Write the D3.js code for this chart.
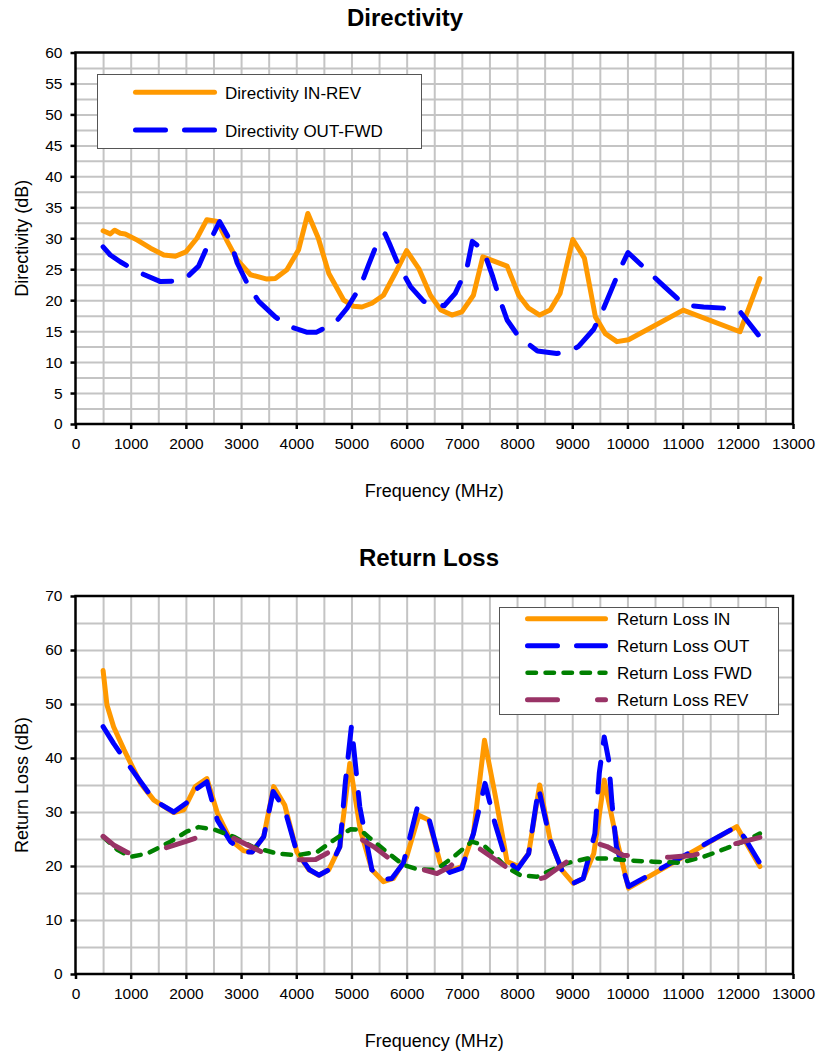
<!DOCTYPE html>
<html>
<head>
<meta charset="utf-8">
<script src="https://cdn.jsdelivr.net/npm/d3@7"></script>
<style>
    body { margin: 0; background: #fff; }
    svg { font-family: "Liberation Sans", Arial, sans-serif; }
    .grid line { stroke: #c4c4c4; stroke-width: 2; }
    .grid .domain { display: none; }
    .axis .domain { display: none; }
    .axis line { stroke: #000; stroke-width: 2.5; }
    .axis text { font-size: 15.5px; fill: #000; font-family: "Liberation Sans", Arial, sans-serif; }
</style>
</head>
<body>
<div id="chart"></div>
<script>
// Directivity, each point is [frequency MHz, dB]
var dirInRev = [[500,31.2],[630,30.7],[710,31.3],[810,30.8],[900,30.7],[1120,29.7],[1360,28.4],[1600,27.3],[1810,27.1],[2000,27.8],[2200,30],[2380,33],[2570,32.7],[2750,29.5],[2930,26.5],[3170,24.1],[3470,23.4],[3620,23.5],[3830,24.9],[4040,28.1],[4210,34],[4400,30],[4590,24.3],[4860,20],[5040,19],[5190,18.9],[5370,19.5],[5580,20.8],[5790,24.3],[6000,28],[6220,25.1],[6430,20.8],[6620,18.4],[6820,17.6],[7000,18.1],[7210,20.8],[7380,27],[7820,25.5],[8030,20.8],[8210,18.7],[8410,17.6],[8600,18.4],[8780,21.1],[9010,29.8],[9220,26.8],[9420,17.3],[9600,14.6],[9810,13.3],[10020,13.6],[11010,18.4],[12040,14.9],[12400,23.5]];
var dirOutFwd = [[500,28.6],[630,27.3],[810,26.2],[1120,24.6],[1540,23],[1840,23.1],[2020,23.7],[2230,25.5],[2400,28.9],[2610,32.7],[2810,29.5],[2930,26],[3140,22.2],[3320,19.8],[3620,17.3],[3890,15.7],[4200,14.8],[4360,14.8],[4710,16.4],[4920,18.7],[5160,22.2],[5310,25.7],[5430,28.4],[5610,30.7],[5690,29.1],[5850,25.7],[6070,22.2],[6310,19.8],[6680,19.1],[6880,21.1],[7090,25.1],[7190,29.5],[7390,28.1],[7560,23.8],[7680,20.3],[7820,16.8],[8030,14.1],[8370,11.8],[8720,11.4],[8930,11.7],[9110,12.5],[9390,15.3],[9570,18.7],[9720,21.9],[9870,25.1],[10010,27.7],[10380,24.6],[10680,22.1],[11040,19.2],[11380,18.9],[11770,18.7],[12010,18.5],[12370,14.4]];

// Return loss, each point is [frequency MHz, dB]
var rlIn = [[500,56.2],[570,49.8],[690,45.8],[880,41.5],[1180,35.3],[1420,32.2],[1780,29.9],[1960,30.4],[2170,34.7],[2380,36.2],[2570,29.8],[2810,24.8],[3050,22.8],[3200,22.6],[3410,25.4],[3590,34.7],[3790,31.3],[4010,22.6],[4230,19.3],[4410,18.3],[4590,19.3],[4790,23.6],[4970,39],[5160,26.7],[5370,19.3],[5580,17.1],[5760,17.7],[6000,21.7],[6220,29.4],[6400,28.5],[6610,20.5],[6790,19.1],[7000,19.9],[7210,26],[7410,43.3],[7610,32.8],[7820,20.8],[8030,19.9],[8210,22.3],[8410,35],[8600,24.8],[8810,19.3],[9020,16.8],[9200,17.7],[9390,22.3],[9580,35.9],[9780,26],[10020,15.9],[11980,27.3],[12400,19.9]];
var rlOut = [[500,45.8],[690,42.7],[920,39.3],[1180,35.6],[1420,32.2],[1780,30],[2080,32.2],[2170,34.1],[2380,35.6],[2570,28.5],[2810,24.5],[3050,22.6],[3200,22.6],[3410,25.4],[3580,33.8],[3790,30.5],[4010,22.6],[4240,19.3],[4410,18.3],[4590,19.3],[4790,23.6],[4890,35.6],[5000,45.9],[5070,39],[5150,31],[5370,19.3],[5580,17.5],[5730,17.7],[5940,20.5],[6190,30.7],[6400,28.9],[6610,20.8],[6780,18.8],[7000,19.6],[7210,26],[7420,35.3],[7600,27.9],[7790,21.5],[8000,19.3],[8210,22.3],[8390,34.4],[8600,24.8],[8810,19.3],[9020,16.8],[9200,17.7],[9410,26],[9490,37.2],[9580,43.9],[9660,39.6],[9720,31.6],[9800,23.6],[10020,16.2],[11980,27.3],[12130,25.1],[12400,20.5]];
var rlFwd = [[500,25.4],[760,23],[1000,21.7],[1300,22.3],[1720,24.5],[2020,26.4],[2230,27.2],[2500,26.8],[2870,25.4],[3200,23.6],[3650,22.3],[4010,22],[4380,22.6],[4680,24.8],[4980,26.8],[5160,26.7],[5340,25.1],[5640,22.6],[5940,20.2],[6190,19.4],[6490,19.3],[6610,19.9],[6850,21.7],[7180,24.5],[7390,23.9],[7550,22.4],[7790,19.9],[8060,18.3],[8360,18],[8630,19.3],[8900,20.5],[9270,21.4],[9630,21.4],[10050,21],[10470,20.8],[10950,20.6],[11380,21.7],[11800,23.3],[12160,24.8],[12400,26]];
var rlRev = [[500,25.5],[690,23.9],[940,22.5],[1180,21.9],[1990,24.5],[2320,25.7],[2570,25.9],[2810,25.4],[3560,21.7],[3890,21.1],[4350,21.2],[5100,25.4],[5400,23.6],[5760,20.8],[6550,18.6],[6790,19.9],[7180,24.2],[7790,19.9],[8060,17.9],[8360,17.5],[8510,17.9],[9200,23],[9420,24.3],[9630,23.6],[9920,22],[10770,21.6],[11200,22],[11560,23.1],[12400,25.3]];

// Tick labels
var freqTicks = [0, 1000, 2000, 3000, 4000, 5000, 6000, 7000, 8000, 9000, 10000, 11000, 12000, 13000];
var dirTicks = [0, 5, 10, 15, 20, 25, 30, 35, 40, 45, 50, 55, 60];
var rlTicks = [0, 10, 20, 30, 40, 50, 60, 70];

var svg = d3.select("#chart").append("svg")
    .attr("width", 816)
    .attr("height", 1052);

function drawPanel(p) {
    var x = d3.scaleLinear().domain([0, 13000]).range([p.left, p.right]);
    var y = d3.scaleLinear().domain([0, p.yMax]).range([p.bottom, p.top]);
    var h = p.bottom - p.top, w = p.right - p.left;
    var g = svg.append("g");

    // grid lines
    g.append("g").attr("class", "grid")
        .attr("transform", "translate(0," + p.bottom + ")")
        .call(d3.axisBottom(x).tickValues(d3.range(500, 13000, 500)).tickSize(-h).tickFormat(""));
    g.append("g").attr("class", "grid")
        .attr("transform", "translate(" + p.left + ",0)")
        .call(d3.axisLeft(y).tickValues(d3.range(p.gridStep, p.yMax, p.gridStep)).tickSize(-w).tickFormat(""));

    // series lines
    var line = d3.line()
        .x(d => x(d[0]))
        .y(d => y(d[1]));
    p.series.forEach(function(s) {
        g.append("path")
            .datum(s.data)
            .attr("fill", "none")
            .attr("stroke", s.color)
            .attr("stroke-width", s.width)
            .attr("stroke-linecap", "round")
            .attr("stroke-linejoin", "round")
            .attr("stroke-dasharray", s.dash)
            .attr("d", line);
    });

    // frame
    g.append("rect")
        .attr("x", p.left).attr("y", p.top)
        .attr("width", w).attr("height", h)
        .attr("fill", "none").attr("stroke", "#000").attr("stroke-width", 2.5);

    // axes
    g.append("g").attr("class", "axis")
        .attr("transform", "translate(0," + p.bottom + ")")
        .call(d3.axisBottom(x).tickValues(freqTicks).tickSize(5).tickPadding(9).tickFormat(d3.format("d")));
    g.append("g").attr("class", "axis")
        .attr("transform", "translate(" + p.left + ",0)")
        .call(d3.axisLeft(y).tickValues(p.yTicks).tickSize(5).tickPadding(8));

    // titles
    g.append("text")
        .attr("x", p.titleX).attr("y", p.titleY)
        .attr("text-anchor", "middle")
        .style("font-size", "24px").style("font-weight", "bold")
        .text(p.title);
    g.append("text")
        .attr("x", (p.left + p.right) / 2).attr("y", p.bottom + 73)
        .attr("text-anchor", "middle")
        .style("font-size", "18px")
        .text("Frequency (MHz)");
    g.append("text")
        .attr("transform", "translate(28," + (p.top + h / 2) + ") rotate(-90)")
        .attr("text-anchor", "middle")
        .style("font-size", "18px")
        .text(p.yLabel);

    // legend
    var lg = p.legend;
    g.append("rect")
        .attr("x", lg.x).attr("y", lg.y)
        .attr("width", lg.w).attr("height", lg.h)
        .attr("fill", "#fff").attr("stroke", "#555").attr("stroke-width", 1);
    p.series.forEach(function(s, i) {
        var ly = lg.rowY + i * lg.rowH;
        g.append("line")
            .attr("x1", lg.lineX1).attr("x2", lg.lineX2)
            .attr("y1", ly).attr("y2", ly)
            .attr("stroke", s.color)
            .attr("stroke-width", s.width)
            .attr("stroke-linecap", "round")
            .attr("stroke-dasharray", s.dash);
        g.append("text")
            .attr("x", lg.textX).attr("y", ly + 6.5)
            .style("font-size", "17px")
            .text(s.name);
    });
}

drawPanel({
    left: 75.5, right: 793, top: 52.5, bottom: 424,
    yMax: 60, gridStep: 2.5, yTicks: dirTicks,
    title: "Directivity", titleX: 405, titleY: 26,
    yLabel: "Directivity (dB)",
    series: [
        { name: "Directivity IN-REV", data: dirInRev, color: "#FF9900", width: 5, dash: null },
        { name: "Directivity OUT-FWD", data: dirOutFwd, color: "#0000FF", width: 5, dash: "30,19" }
    ],
    legend: { x: 97.5, y: 74.5, w: 324, h: 74, rowY: 92.3, rowH: 37.7, lineX1: 135.5, lineX2: 214.5, textX: 225 }
});

drawPanel({
    left: 75.5, right: 793, top: 596, bottom: 974,
    yMax: 70, gridStep: 5, yTicks: rlTicks,
    title: "Return Loss", titleX: 429, titleY: 566,
    yLabel: "Return Loss (dB)",
    series: [
        { name: "Return Loss IN", data: rlIn, color: "#FF9900", width: 5, dash: null },
        { name: "Return Loss OUT", data: rlOut, color: "#0000FF", width: 5, dash: "30,19" },
        { name: "Return Loss FWD", data: rlFwd, color: "#008000", width: 4.5, dash: "8.5,9.5" },
        { name: "Return Loss REV", data: rlRev, color: "#993366", width: 5, dash: "30,40" }
    ],
    legend: { x: 499.5, y: 607.5, w: 279, h: 107, rowY: 618.7, rowH: 27, lineX1: 527.5, lineX2: 605.5, textX: 617 }
});
</script>
</body>
</html>
